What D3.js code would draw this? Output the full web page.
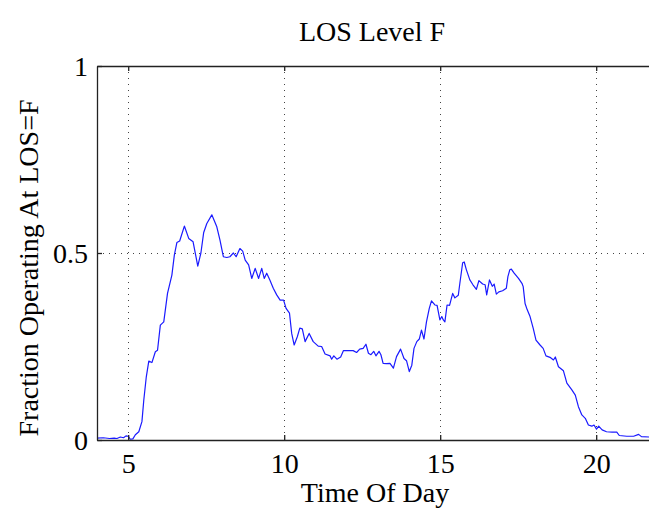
<!DOCTYPE html>
<html>
<head>
<meta charset="utf-8">
<script src="https://cdn.jsdelivr.net/npm/d3@7"></script>
<style>
  html, body { margin: 0; padding: 0; background: #fff; overflow: hidden; }
  svg { display: block; }
</style>
</head>
<body>
<div id="chart"></div>
<script>
// values
const timeOfDay = [
  4.00, 4.20, 4.40, 4.55, 4.64, 4.75, 4.85, 4.93, 5.00, 5.07, 5.15, 5.23, 5.34, 5.44, 5.50,
  5.58, 5.66, 5.76, 5.87, 5.94, 6.03, 6.14, 6.26, 6.40, 6.48, 6.56, 6.65, 6.80, 6.94, 7.08,
  7.23, 7.33, 7.42, 7.52, 7.68, 7.84, 7.94, 8.05, 8.16, 8.26, 8.37, 8.46, 8.58, 8.67, 8.75,
  8.86, 8.96, 9.07, 9.18, 9.28, 9.36, 9.44, 9.54, 9.65, 9.76, 9.87, 9.98, 10.06, 10.17, 10.24,
  10.32, 10.42, 10.50, 10.58, 10.67, 10.80, 10.93, 11.09, 11.20, 11.31, 11.47, 11.52, 11.59, 11.69, 11.81,
  11.90, 12.21, 12.32, 12.42, 12.53, 12.62, 12.70, 12.78, 12.87, 12.94, 13.04, 13.10, 13.17, 13.28, 13.39,
  13.50, 13.60, 13.73, 13.84, 13.92, 14.01, 14.09, 14.16, 14.25, 14.33, 14.40, 14.48, 14.56, 14.65, 14.72,
  14.83, 14.90, 14.99, 15.05, 15.10, 15.15, 15.22, 15.30, 15.40, 15.47, 15.58, 15.63, 15.72, 15.77, 15.84,
  15.95, 16.05, 16.16, 16.24, 16.36, 16.44, 16.49, 16.58, 16.67, 16.73, 16.80, 16.88, 17.00, 17.12, 17.17,
  17.23, 17.28, 17.37, 17.51, 17.62, 17.66, 17.72, 17.79, 17.88, 17.98, 18.07, 18.20, 18.30, 18.39, 18.52,
  18.63, 18.69, 18.79, 18.95, 19.06, 19.22, 19.33, 19.43, 19.54, 19.65, 19.75, 19.86, 19.93, 20.01, 20.08,
  20.19, 20.33, 20.51, 20.66, 20.74, 20.98, 21.20, 21.36, 21.45, 21.71, 22.00
];
const fractionLosF = [
  0.005, 0.006, 0.004, 0.005, 0.004, 0.008, 0.006, 0.011, 0.010, 0.002, 0.003, 0.014, 0.022, 0.049, 0.107,
  0.169, 0.211, 0.207, 0.236, 0.240, 0.307, 0.316, 0.392, 0.441, 0.495, 0.528, 0.532, 0.572, 0.539, 0.530,
  0.465, 0.500, 0.555, 0.579, 0.602, 0.570, 0.535, 0.490, 0.488, 0.490, 0.500, 0.490, 0.512, 0.505, 0.481,
  0.468, 0.432, 0.459, 0.432, 0.459, 0.432, 0.446, 0.428, 0.406, 0.388, 0.374, 0.374, 0.352, 0.339, 0.285,
  0.254, 0.276, 0.299, 0.297, 0.263, 0.285, 0.263, 0.251, 0.250, 0.230, 0.225, 0.216, 0.225, 0.216, 0.222,
  0.239, 0.239, 0.234, 0.243, 0.245, 0.256, 0.232, 0.228, 0.237, 0.225, 0.237, 0.228, 0.205, 0.204, 0.205,
  0.192, 0.223, 0.243, 0.218, 0.212, 0.183, 0.200, 0.245, 0.263, 0.270, 0.294, 0.270, 0.316, 0.352, 0.372,
  0.361, 0.360, 0.321, 0.330, 0.321, 0.316, 0.361, 0.360, 0.392, 0.380, 0.387, 0.419, 0.474, 0.476, 0.455,
  0.428, 0.415, 0.403, 0.426, 0.417, 0.415, 0.388, 0.428, 0.411, 0.417, 0.390, 0.396, 0.399, 0.406, 0.437,
  0.455, 0.457, 0.446, 0.432, 0.419, 0.410, 0.365, 0.348, 0.330, 0.299, 0.267, 0.254, 0.245, 0.225, 0.221,
  0.214, 0.222, 0.196, 0.185, 0.152, 0.134, 0.120, 0.089, 0.067, 0.058, 0.040, 0.037, 0.040, 0.029, 0.037,
  0.027, 0.022, 0.021, 0.021, 0.012, 0.010, 0.010, 0.015, 0.009, 0.008, 0.006
];
const xTicks = [5, 10, 15, 20];
const yTicks = [0, 0.5, 1];
const yTickLabels = ["0", "0.5", "1"];

const width = 649;
const height = 518;
const serif = "'Liberation Serif', 'Times New Roman', serif";
// the axes box runs on past the right edge of the picture
const plot = { left: 97, top: 66, right: 658.6, bottom: 440 };

const svg = d3.select("#chart").append("svg")
    .attr("width", width)
    .attr("height", height);

const x = d3.scaleLinear().domain([4, 22]).range([plot.left, plot.right]);
const y = d3.scaleLinear().domain([0, 1]).range([plot.bottom, plot.top]);

// grid (dotted)
const grid = svg.append("g")
    .attr("stroke", "#444")
    .attr("stroke-width", 1)
    .attr("stroke-dasharray", "1,5");

grid.selectAll("line.vx")
    .data(xTicks)
    .enter()
    .append("line")
    .attr("x1", d => Math.round(x(d)) + 0.5)
    .attr("x2", d => Math.round(x(d)) + 0.5)
    .attr("y1", plot.top)
    .attr("y2", plot.bottom);

grid.selectAll("line.hy")
    .data(yTicks.filter(d => d > 0 && d < 1))
    .enter()
    .append("line")
    .attr("x1", plot.left)
    .attr("x2", plot.right)
    .attr("y1", d => Math.round(y(d)) + 0.5)
    .attr("y2", d => Math.round(y(d)) + 0.5);

// the data line
const line = d3.line()
    .x((d, i) => x(timeOfDay[i]))
    .y(d => y(d));

svg.append("path")
    .datum(fractionLosF)
    .attr("fill", "none")
    .attr("stroke", "#1a1aff")
    .attr("stroke-width", 1.2)
    .attr("stroke-linejoin", "round")
    .attr("d", line);

// axes: inward ticks, box outline
const bottomAxis = d3.axisBottom(x).tickValues(xTicks).tickSizeInner(-5).tickSizeOuter(0).tickPadding(13);
const topAxis = d3.axisTop(x).tickValues(xTicks).tickSizeInner(-5).tickSizeOuter(0).tickFormat("");
const leftAxis = d3.axisLeft(y).tickValues(yTicks).tickSizeInner(-5).tickSizeOuter(0).tickPadding(9)
    .tickFormat((d, i) => yTickLabels[i]);

const gx = svg.append("g")
    .attr("transform", `translate(0,${plot.bottom})`)
    .call(bottomAxis);
const gt = svg.append("g")
    .attr("transform", `translate(0,${plot.top})`)
    .call(topAxis);
const gy = svg.append("g")
    .attr("transform", `translate(${plot.left},0)`)
    .call(leftAxis);

[gx, gt, gy].forEach(g => {
    g.attr("font-family", serif).attr("font-size", 28);
    g.select(".domain").attr("stroke", "#222").attr("stroke-width", 1.3);
    g.selectAll(".tick line").attr("stroke", "#222").attr("stroke-width", 1.3);
    g.selectAll(".tick text")
        .style("font-family", serif)
        .style("font-size", "28px")
        .attr("fill", "#000");
});
gy.selectAll(".tick text").attr("dy", "0.35em");

// titles
const labels = svg.append("g")
    .style("font-family", serif)
    .style("font-size", "28px")
    .attr("fill", "#000");

labels.append("text")
    .attr("x", 372)
    .attr("y", 41)
    .attr("text-anchor", "middle")
    .text("LOS Level F");

labels.append("text")
    .attr("x", 375)
    .attr("y", 502)
    .attr("text-anchor", "middle")
    .text("Time Of Day");

labels.append("text")
    .attr("transform", "translate(38,268) rotate(-90)")
    .attr("text-anchor", "middle")
    .text("Fraction Operating At LOS=F");
</script>
</body>
</html>
